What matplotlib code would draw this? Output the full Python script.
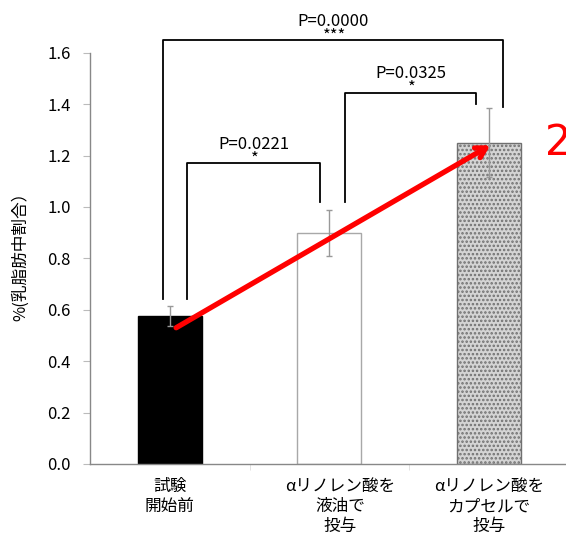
import matplotlib
matplotlib.use('Agg')
import matplotlib.pyplot as plt
import numpy as np

plt.rcParams['font.family'] = ['Noto Sans CJK JP', 'DejaVu Sans']
plt.rcParams['hatch.linewidth'] = 1.2

# data
labels = ['試験\n開始前', 'αリノレン酸を\n液油で\n投与', 'αリノレン酸を\nカプセルで\n投与']
values = [0.575, 0.90, 1.25]
errors = [0.04, 0.09, 0.135]
yticks = [0.0, 0.2, 0.4, 0.6, 0.8, 1.0, 1.2, 1.4, 1.6]

# significance brackets: (x_left, y_left, x_right, y_right, y_top, p-text, stars)
brackets = [
    (0.11, 0.64, 0.94, 1.02, 1.17, 'P=0.0221', '*'),
    (1.10, 1.02, 1.92, 1.40, 1.445, 'P=0.0325', '*'),
    (-0.04, 0.64, 2.09, 1.39, 1.648, 'P=0.0000', '***'),
]

fig = plt.figure(figsize=(5.66, 5.36), dpi=100)
ax = fig.add_axes([90 / 566, 72 / 536, 478.5 / 566, 411.3 / 536])

x = np.arange(len(values))
ax.bar(x[0], values[0], width=0.4, color='black', edgecolor='black', zorder=2)
ax.bar(x[1], values[1], width=0.4, color='white', edgecolor='#a8a8a8', lw=1, zorder=2)
ax.bar(x[2], values[2], width=0.4, color='#d4d4d4', edgecolor='#707070', lw=1,
       hatch='....', zorder=2)
ax.errorbar(x, values, yerr=errors, fmt='none', ecolor='#999999', elinewidth=1,
            capsize=2.5, capthick=1, zorder=3)

for xl, yl, xr, yr, yt, ptxt, stars in brackets:
    ax.plot([xl, xl, xr, xr], [yl, yt, yt, yr], color='black', lw=1.3,
            clip_on=False, zorder=4)
    xm = (xl + xr) / 2
    ax.text(xm, yt + 0.04, ptxt, ha='center', va='bottom', fontsize=12,
            clip_on=False)
    ax.text(xm + 0.01, yt + 0.0, stars, ha='center', va='baseline', fontsize=12,
            clip_on=False)

ax.annotate('', xy=(2.01, 1.24), xytext=(0.04, 0.53),
            arrowprops=dict(arrowstyle='->,head_length=0.7,head_width=0.4',
                            color='#ff0000', lw=3.8, shrinkA=0, shrinkB=0),
            zorder=5)
ax.text(2.35, 1.25, '2', color='#ff0000', fontsize=30, ha='left', va='center',
        family=['DejaVu Sans'], clip_on=False)

ax.set_xlim(-0.5, 2.5)
ax.set_ylim(0, 1.6)
ax.set_yticks(yticks)
ax.set_yticklabels([f'{v:.1f}' for v in yticks], fontsize=12)
ax.tick_params(axis='y', length=5, color='#bbbbbb', pad=9)

ax.set_xticks([0, 1.07, 2])
ax.set_xticklabels(labels, fontsize=12, linespacing=1.25)
ax.tick_params(axis='x', which='major', length=0, pad=10)
ax.set_xticks([0.5, 1.5], minor=True)
ax.tick_params(axis='x', which='minor', length=4, color='#dddddd')

for s in ['top', 'right']:
    ax.spines[s].set_visible(False)
for s in ['left', 'bottom']:
    ax.spines[s].set_color('#888888')
    ax.spines[s].set_linewidth(1)

fig.text(20 / 566, 1 - 252 / 536, '%(乳脂肪中割合）', rotation=90, ha='center',
         va='center', fontsize=12)

fig.savefig('out.png', dpi=100)
